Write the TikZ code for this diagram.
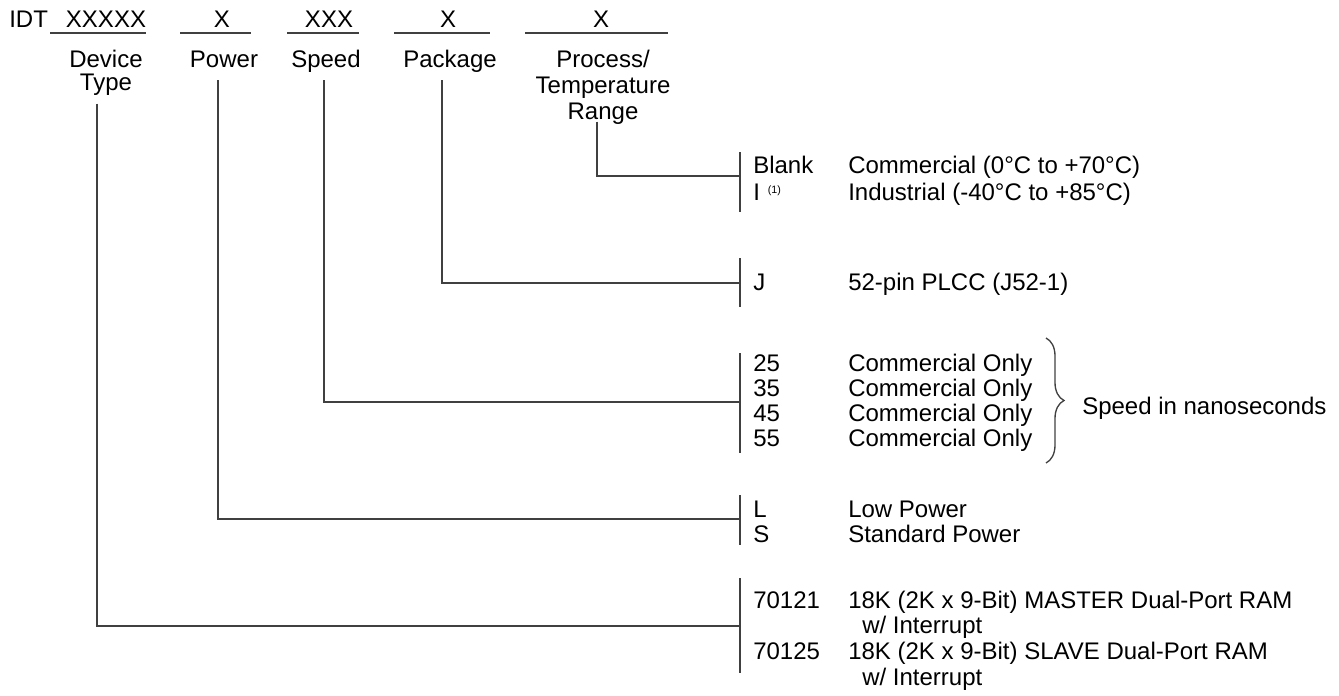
\documentclass[tikz,border=0pt]{standalone}
\usepackage{fontspec}
\setmainfont{Liberation Sans}
\usetikzlibrary{calc,decorations.pathreplacing}

\tikzset{
  field/.style={anchor=base, inner sep=0pt},
  tag/.style={anchor=base west, inner sep=0pt},
  lbl/.style={anchor=base, inner sep=0pt, align=center, font=\fontsize{18}{17.6}\selectfont},
  lead/.style={draw=black!75, line width=1pt},
}

\begin{document}
\begin{tikzpicture}[x=0.75pt, y=-0.75pt, font=\fontsize{18}{20}\selectfont]
  \useasboundingbox (0,0) rectangle (1339,696);

  % ordering code fields
  \node[tag] (idt) at (9,27) {IDT};
  \foreach \id/\xa/\xb/\xt/\code in {dev/50/146/106/XXXXX, pow/180/251/222/X, spd/287/359/329/XXX, pkg/394/490/448/X, tmp/525/668/601/X} {
    \node[field] (x\id) at (\xt,27) {\code};
    \draw[lead] (\xa,33) -- (\xb,33);
  }

  % multi-line labels sit on their last baseline
  \node[lbl] (devlbl) at (106,90.5) {Device\\Type};
  \node[lbl] (powlbl) at (224,67) {Power};
  \node[lbl] (spdlbl) at (326,67) {Speed};
  \node[lbl] (pkglbl) at (450,67) {Package};
  \node[lbl] (tmplbl) at (603,119.4) {Process/\\[2pt]Temperature\\[2pt]Range};

  % option bars
  \foreach \id/\ya/\yb/\yj in {tmp/152/212/176, pkg/258/307/283, spd/353/453/402, pow/495/545/519, dev/578/673/626} {
    \coordinate (top\id) at (740,\ya);
    \coordinate (bot\id) at (740,\yb);
    \coordinate (join\id) at (740,\yj);
    \draw[lead] (top\id) -- (bot\id);
  }

  \draw[lead] ($(devlbl.south)+(-9,8)$) |- (joindev);
  \draw[lead] ($(powlbl.base)+(-6,13)$) |- (joinpow);
  \draw[lead] ($(spdlbl.base)+(-2,13)$) |- (joinspd);
  \draw[lead] ($(pkglbl.base)+(-8,13)$) |- (joinpkg);
  \draw[lead] ($(tmplbl.south)+(-6,-3)$) |- (jointmp);

  \foreach \y/\code/\desc [count=\i] in {
      173/Blank/{Commercial (0°C to +70°C)},
      200/{I\hspace{6pt}\raisebox{5pt}{\fontsize{8}{9}\selectfont(1)}}/{Industrial (-40°C to +85°C)},
      290/J/{52-pin PLCC (J52-1)},
      371/25/Commercial Only, 396/35/Commercial Only,
      421/45/Commercial Only, 446/55/Commercial Only,
      517/L/Low Power, 542/S/Standard Power,
      608/70121/{18K (2K x 9-Bit) MASTER Dual-Port RAM},
      659/70125/{18K (2K x 9-Bit) SLAVE Dual-Port RAM}} {
    \node[tag] (code\i) at (753,\y) {\code};
    \node[tag] (desc\i) at (848,\y) {\desc};
  }
  \node[tag] (wint1) at (862,633) {w/ Interrupt};
  \node[tag] (wint2) at (862,685) {w/ Interrupt};

  \draw[lead, decorate, decoration={brace, amplitude=13.5pt}] (1046,338) -- (1046,463);
  \node[tag] (spdnote) at (1082,414) {Speed in nanoseconds};
\end{tikzpicture}
\end{document}
